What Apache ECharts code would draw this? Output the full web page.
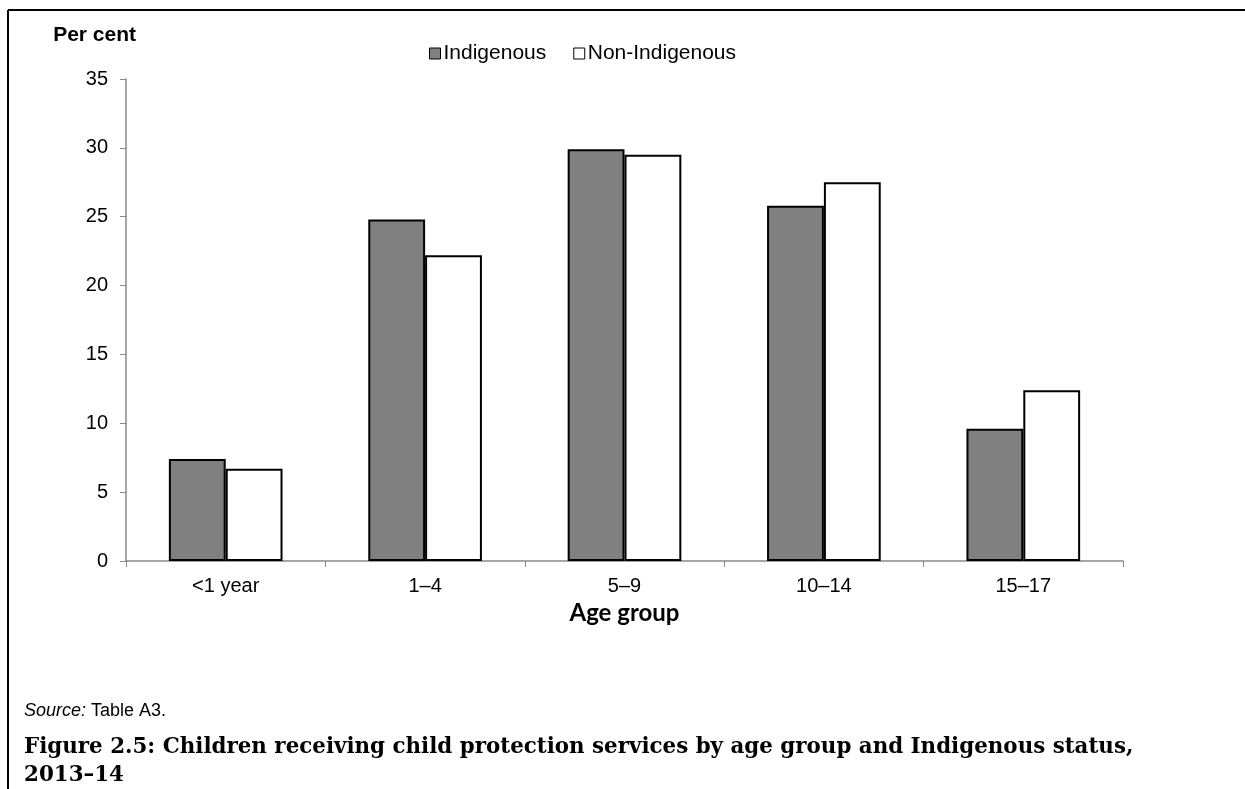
<!DOCTYPE html>
<html>
<head>
<meta charset="utf-8">
<title>Children receiving child protection services</title>
<script src="https://cdn.jsdelivr.net/npm/echarts@6/dist/echarts.min.js"></script>
<style>
  html, body { margin: 0; padding: 0; background: #fff; }
  #chart { width: 1245px; height: 789px; }
</style>
</head>
<body>
<div id="chart"></div>
<script>
// age groups on the x axis
const categories = ['<1 year', '1–4', '5–9', '10–14', '15–17']
// per cent of children receiving child protection services
const indigenous = [7.4, 24.8, 29.9, 25.8, 9.6]
const nonIndigenous = [6.7, 22.2, 29.5, 27.5, 12.4]
const seriesNames = ['Indigenous', 'Non-Indigenous']

const sans = '"Liberation Sans", Arial, sans-serif'

const chart = echarts.init(document.getElementById('chart'), null, { renderer: 'canvas' })

chart.setOption({
  backgroundColor: '#fff',
  animation: false,
  textStyle: { fontFamily: sans, color: '#000' },
  legend: {
    data: seriesNames,
    left: 424,
    top: 38,
    icon: 'rect',
    itemWidth: 11,
    itemHeight: 11,
    itemGap: 27,
    textStyle: { fontFamily: sans, fontSize: 21, color: '#000', padding: [0, 0, 0, -2] },
    itemStyle: { borderColor: '#000', borderWidth: 1 }
  },
  grid: {
    left: 126,
    right: 122,
    top: 79,
    bottom: 228,
    containLabel: false
  },
  xAxis: {
    type: 'category',
    data: categories,
    name: 'Age group',
    nameLocation: 'middle',
    nameGap: 39,
    nameTextStyle: { fontFamily: 'Lato, "Open Sans", sans-serif', fontWeight: 'bold', fontSize: 24, color: '#000' },
    axisLine: { lineStyle: { color: '#898989', width: 1.5 } },
    axisTick: { show: true, length: 6, lineStyle: { color: '#898989' } },
    axisLabel: { fontSize: 20, color: '#000', margin: 15 }
  },
  yAxis: {
    type: 'value',
    min: 0,
    max: 35,
    interval: 5,
    name: 'Per cent',
    nameLocation: 'end',
    nameGap: 33,
    nameTextStyle: { fontFamily: sans, fontWeight: 'bold', fontSize: 21, color: '#000', align: 'right', padding: [0, -10, 0, 0] },
    axisLine: { show: true, lineStyle: { color: '#898989', width: 1.5 } },
    axisTick: { show: true, length: 6, lineStyle: { color: '#898989' } },
    axisLabel: { fontSize: 20, color: '#000', margin: 18 },
    splitLine: { show: false }
  },
  series: [
    {
      name: seriesNames[0],
      type: 'bar',
      data: indigenous,
      barGap: '0%',
      barCategoryGap: '43%',
      itemStyle: { color: '#808080', borderColor: '#000', borderWidth: 2 }
    },
    {
      name: seriesNames[1],
      type: 'bar',
      data: nonIndigenous,
      barGap: '0%',
      barCategoryGap: '43%',
      itemStyle: { color: '#fff', borderColor: '#000', borderWidth: 2 }
    }
  ],
  graphic: [
    // frame round the figure (top and left edges only are visible)
    { type: 'line', shape: { x1: 8, y1: 10, x2: 1245, y2: 10 }, style: { stroke: '#000', lineWidth: 2 } },
    { type: 'line', shape: { x1: 8, y1: 10, x2: 8, y2: 789 }, style: { stroke: '#000', lineWidth: 2 } },
    {
      type: 'text',
      left: 24,
      top: 702,
      style: {
        rich: {
          i: { fontFamily: sans, fontStyle: 'italic', fontSize: 18, fill: '#000' },
          n: { fontFamily: sans, fontSize: 18, fill: '#000' }
        },
        text: '{i|Source:}{n| Table A3.}'
      }
    },
    {
      type: 'text',
      left: 24,
      top: 733,
      style: {
        text: 'Figure 2.5: Children receiving child protection services by age group and Indigenous status,\n2013–14',
        font: 'bold 21.4px "DejaVu Serif", "Liberation Serif", serif',
        lineHeight: 28,
        fill: '#000'
      }
    }
  ]
})
</script>
</body>
</html>
